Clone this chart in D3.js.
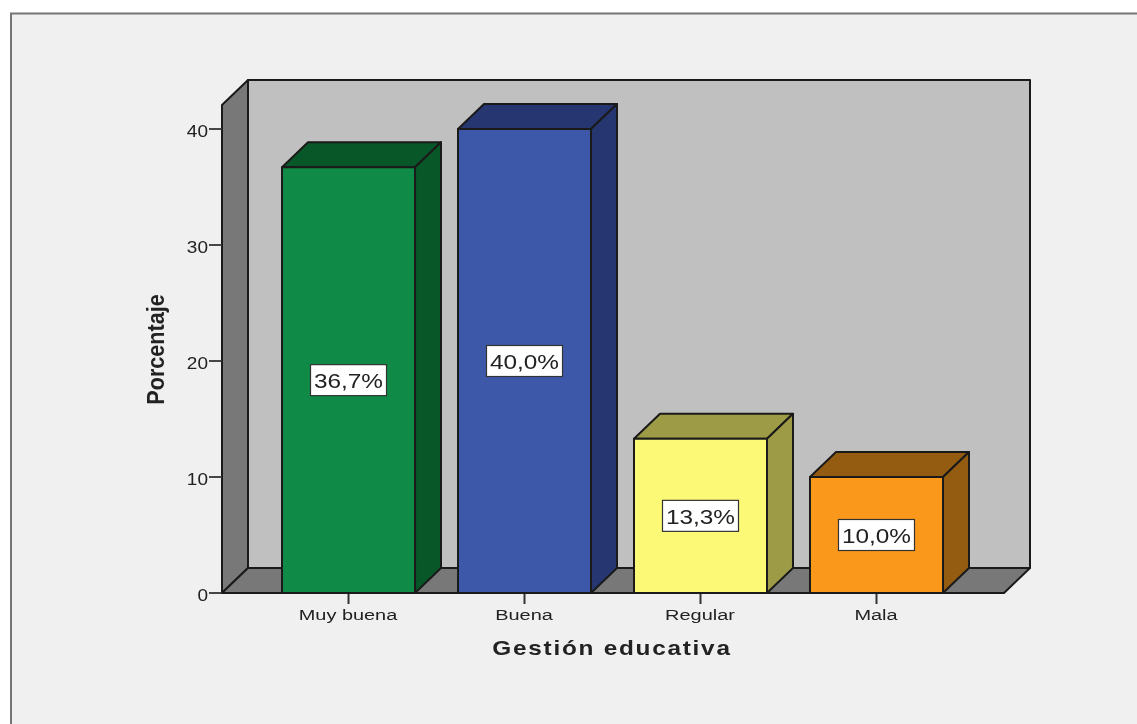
<!DOCTYPE html>
<html><head><meta charset="utf-8">
<script src="https://cdn.jsdelivr.net/npm/d3@7/dist/d3.min.js"></script>
<style>html,body{margin:0;padding:0;background:#fff;overflow:hidden}svg{display:block;filter:blur(0.45px)}
text{font-family:"Liberation Sans",Arial,sans-serif;fill:#222}</style></head>
<body><svg id="c" width="1137" height="724"></svg>
<script>
const categories = ["Muy buena","Buena","Regular","Mala"];
const values = [36.7,40.0,13.3,10.0];
const valueLabels = ["36,7%","40,0%","13,3%","10,0%"];
const yTicks = [0,10,20,30,40];
const frontColors = ["#0f8b47","#3d58a9","#fcf977","#fa981b"];
const sideColors = ["#085728","#263671","#9d9b46","#945c11"];
const xTitle = "Gestión educativa";
const yTitle = "Porcentaje";

const svg = d3.select("#c");
const dx = 26, dy = -25;
const x0 = 222, x1 = 1004;
const y = d3.scaleLinear().domain([0,40]).range([593,129]);
const x = d3.scaleBand().domain(categories).range([260.5,964.5]).paddingInner(0.2443).paddingOuter(0.1222);
const yTop = 105;
const line = "#1a1a1a";
const poly = (pts,fill,sw=2)=>svg.append("polygon").attr("points",pts.map(p=>p.join(",")).join(" "))
  .attr("fill",fill).attr("stroke",line).attr("stroke-width",sw).attr("stroke-linejoin","round");
const label = (px,py,str,size,sx,anchor,weight)=>svg.append("text")
  .attr("transform",`translate(${px},${py}) scale(${sx},1)`)
  .attr("text-anchor",anchor).attr("font-size",size).attr("font-weight",weight||"normal").text(str);

// frame
svg.append("rect").attr("width",1137).attr("height",724).attr("fill","#fff");
svg.append("rect").attr("x",11).attr("y",13.5).attr("width",1140).attr("height",730)
  .attr("fill","#f0f0f0").attr("stroke","#757575").attr("stroke-width",2);

// walls
poly([[x0+dx,yTop+dy],[x1+dx,yTop+dy],[x1+dx,593+dy],[x0+dx,593+dy]],"#c0c0c0");
poly([[x0,yTop],[x0+dx,yTop+dy],[x0+dx,593+dy],[x0,593]],"#787878");
poly([[x0,593],[x0+dx,593+dy],[x1+dx,593+dy],[x1,593]],"#787878");

// y axis
yTicks.forEach(t=>{
  svg.append("line").attr("x1",x0-13).attr("x2",x0).attr("y1",y(t)).attr("y2",y(t)).attr("stroke","#333").attr("stroke-width",1.8);
  label(x0-14,y(t)+8,t,17,1.12,"end");
});

// bars
categories.forEach((c,i)=>{
  const l=x(c), r=l+x.bandwidth(), t=y(values[i]), b=y(0);
  const cx=(l+r)/2, cy=(t+b)/2;
  svg.append("line").attr("x1",cx).attr("x2",cx).attr("y1",b).attr("y2",b+11).attr("stroke","#333").attr("stroke-width",2);
  label(cx-0.5,620,c,15,1.33,"middle");
  poly([[l,t],[l+dx,t+dy],[r+dx,t+dy],[r,t]],sideColors[i]);
  poly([[r,t],[r+dx,t+dy],[r+dx,b+dy],[r,b]],sideColors[i]);
  poly([[l,t],[r,t],[r,b],[l,b]],frontColors[i]);
  svg.append("rect").attr("x",cx-38).attr("y",cy-15.5).attr("width",76).attr("height",31).attr("fill","#fff").attr("stroke","#333").attr("stroke-width",1.2);
  label(cx,cy+8,valueLabels[i],21,1.16,"middle");
});

svg.append("line").attr("x1",x0).attr("x2",x1).attr("y1",593).attr("y2",593).attr("stroke",line).attr("stroke-width",2);

svg.append("text").attr("transform","translate(612,655) scale(1.16,1)").attr("text-anchor","middle")
  .attr("font-size",21).attr("font-weight","bold").attr("letter-spacing",1.5).text(xTitle);
svg.append("text").attr("transform","translate(164,349.5) rotate(-90) scale(0.9,1)")
  .attr("text-anchor","middle").attr("font-size",24).attr("font-weight","bold").text(yTitle);
</script></body></html>
